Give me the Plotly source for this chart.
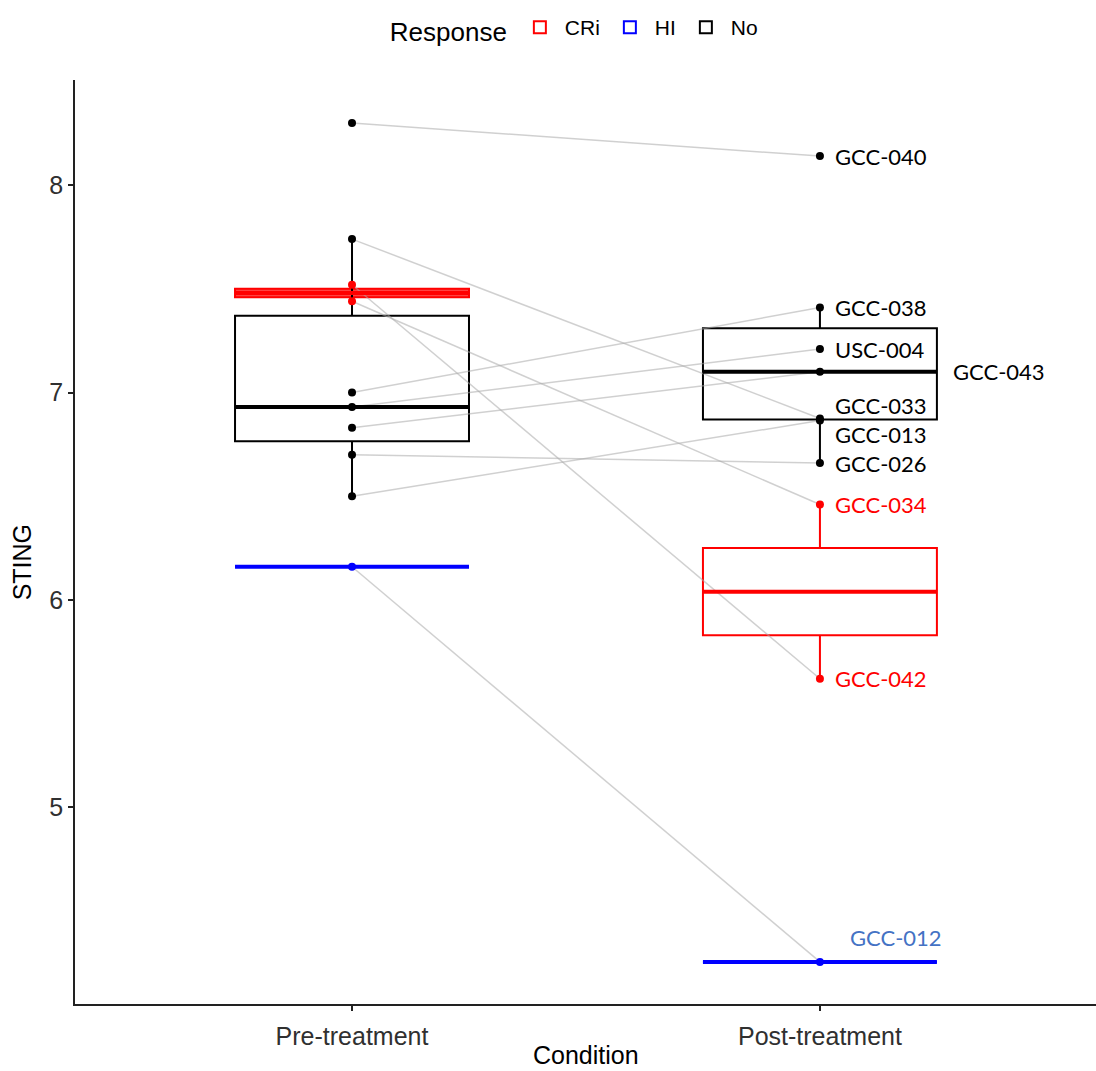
import numpy as np
import plotly.graph_objects as go

# ---------------- data ----------------
conditions = ["Pre-treatment", "Post-treatment"]
responses = ["CRi", "HI", "No"]
patients = ["GCC-040", "GCC-033", "GCC-038", "USC-004", "GCC-043",
            "GCC-026", "GCC-013", "GCC-042", "GCC-034", "GCC-012"]
patient_response = ["No", "No", "No", "No", "No",
                    "No", "No", "CRi", "CRi", "HI"]
sting_pre = [8.30, 7.74, 7.00, 6.93, 6.83, 6.70, 6.50, 7.52, 7.44, 6.16]
sting_post = [8.14, 6.875, 7.41, 7.21, 7.10, 6.66, 6.865, 5.62, 6.46, 4.255]

# ---------------- style ----------------
colors = {"CRi": "#FF0000", "HI": "#0000FF", "No": "#000000"}
label_colors = {"CRi": "#FF0000", "HI": "#4472C4", "No": "#000000"}
# the very thin pre-treatment CRi box renders as a solid bar
box_fill = {("CRi", 0): "rgba(255,0,0,0.75)"}
# pixel offsets of the repelled labels (xshift, yshift)
label_offsets = {"GCC-043": (131, 0), "GCC-033": (13, 13),
                 "GCC-013": (13, -14), "GCC-012": (28, 24)}
BOX_W = 0.5
AXIS_FONT = "Liberation Sans, Arial, sans-serif"


def box_stats(vals):
    v = np.asarray(vals, dtype=float)
    q1, med, q3 = np.percentile(v, [25, 50, 75])
    iqr = q3 - q1
    lo = v[v >= q1 - 1.5 * iqr].min()
    hi = v[v <= q3 + 1.5 * iqr].max()
    return q1, med, q3, lo, hi


fig = go.Figure()

# paired lines
for pid, a, b in zip(patients, sting_pre, sting_post):
    fig.add_trace(go.Scatter(
        x=[0, 1], y=[a, b], mode="lines",
        line=dict(color="rgba(170,170,170,0.55)", width=1.5),
        showlegend=False, hoverinfo="skip"))

shapes = []
series = [sting_pre, sting_post]
# post-treatment boxes first so they carry the (unfilled) legend icons
for xi in [1, 0]:
    for r in responses:
        idx = [i for i, pr in enumerate(patient_response) if pr == r]
        s = box_stats([series[xi][i] for i in idx])
        fig.add_trace(go.Box(
            name=r, legendgroup=r, showlegend=(xi == 1), x=[xi],
            q1=[s[0]], median=[s[1]], q3=[s[2]],
            lowerfence=[s[3]], upperfence=[s[4]],
            width=BOX_W, whiskerwidth=0, boxpoints=False,
            line=dict(color=colors[r], width=2),
            fillcolor=box_fill.get((r, xi), "rgba(255,255,255,0)"),
            hoverinfo="skip"))
        shapes.append(dict(type="line", xref="x", yref="y",
                           x0=xi - BOX_W / 2, x1=xi + BOX_W / 2,
                           y0=s[1], y1=s[1],
                           line=dict(color=colors[r], width=4)))

# points
for r in responses:
    idx = [i for i, pr in enumerate(patient_response) if pr == r]
    xs = [0] * len(idx) + [1] * len(idx)
    ys = [sting_pre[i] for i in idx] + [sting_post[i] for i in idx]
    fig.add_trace(go.Scatter(
        x=xs, y=ys, mode="markers",
        marker=dict(color=colors[r], size=8),
        showlegend=False, hoverinfo="skip"))

annotations = []
for pid, r, b in zip(patients, patient_response, sting_post):
    dx, dy = label_offsets.get(pid, (13, 0))
    annotations.append(dict(
        x=1, y=b, xref="x", yref="y", text=pid, showarrow=False,
        xanchor="left", yanchor="middle", xshift=dx, yshift=dy,
        font=dict(family="Lato, Carlito, sans-serif", size=22,
                  color=label_colors[r])))

# axis titles
annotations.append(dict(
    x=0.5, y=0, xref="paper", yref="paper", text="Condition",
    showarrow=False, xanchor="center", yanchor="middle", yshift=-51,
    font=dict(family=AXIS_FONT, size=25, color="#000000")))
annotations.append(dict(
    x=0, y=0.478, xref="paper", yref="paper", text="STING",
    showarrow=False, xanchor="center", yanchor="middle", xshift=-53,
    textangle=-90,
    font=dict(family="Liberation Sans Narrow, Arial Narrow, sans-serif",
              size=25, color="#000000")))

fig.update_layout(
    width=1096, height=1071,
    margin=dict(l=75, r=0, t=80, b=67),
    paper_bgcolor="white", plot_bgcolor="white",
    boxmode="overlay",
    shapes=shapes, annotations=annotations,
    font=dict(family=AXIS_FONT, color="#000000"),
    legend=dict(
        orientation="h", x=0.49, xanchor="center",
        yref="container", y=1 - 7 / 1071, yanchor="top",
        title=dict(text="Response", font=dict(size=26), side="left"),
        font=dict(size=21), traceorder="normal", itemwidth=40),
    xaxis=dict(
        range=[-0.592, 1.590], tickmode="array", tickvals=[0, 1],
        ticktext=conditions, showgrid=False, zeroline=False,
        showline=True, linecolor="#222222", linewidth=1.5,
        ticks="outside", ticklen=5, tickwidth=1.5, tickcolor="#222222",
        tickfont=dict(size=25, color="#303030"), ticklabelstandoff=4),
    yaxis=dict(
        range=[4.052, 8.507], tickvals=[5, 6, 7, 8],
        showgrid=False, zeroline=False,
        showline=True, linecolor="#222222", linewidth=1.5,
        ticks="outside", ticklen=5, tickwidth=1.5, tickcolor="#222222",
        tickfont=dict(size=25, color="#303030")),
)

fig.write_html("out.html")
